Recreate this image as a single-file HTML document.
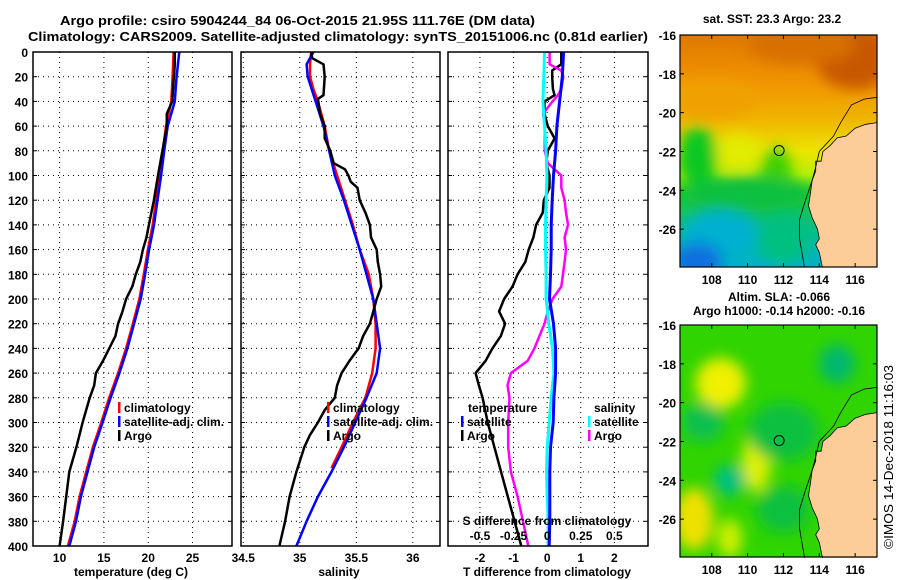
<!DOCTYPE html>
<html><head><meta charset="utf-8"><style>
html,body{margin:0;padding:0;background:#fff;}
svg{display:block;font-family:"Liberation Sans",sans-serif;}
text{font-weight:bold;fill:#000;}
</style></head><body>
<svg id="chart" width="900" height="580" viewBox="0 0 900 580" xmlns="http://www.w3.org/2000/svg">
<defs>
<filter id="blur1" x="-50%" y="-50%" width="200%" height="200%"><feGaussianBlur stdDeviation="7"/></filter>
<clipPath id="clipMap1"><rect x="680" y="35" width="197" height="232"/></clipPath>
<clipPath id="clipMap2"><rect x="680" y="325" width="197" height="233"/></clipPath>
<linearGradient id="sstGrad" x1="0" y1="0" x2="0" y2="1">
<stop offset="0" stop-color="#e07800"/>
<stop offset="0.2" stop-color="#f09400"/>
<stop offset="0.36" stop-color="#f0b400"/>
<stop offset="0.5" stop-color="#ece400"/>
<stop offset="0.6" stop-color="#b8f000"/>
<stop offset="0.68" stop-color="#20c830"/>
<stop offset="0.8" stop-color="#10c070"/>
<stop offset="0.92" stop-color="#00b8b0"/>
<stop offset="1" stop-color="#00b0c8"/>
</linearGradient>
</defs>
<text x="60" y="25" font-size="13" textLength="475" lengthAdjust="spacingAndGlyphs">Argo profile: csiro 5904244_84 06-Oct-2015 21.95S 111.76E (DM data)</text>
<text x="28" y="41" font-size="13" textLength="620" lengthAdjust="spacingAndGlyphs">Climatology: CARS2009. Satellite-adjusted climatology: synTS_20151006.nc (0.81d earlier)</text>
<g id="plots"></g>
<g id="maps"></g>
<text transform="translate(893,549) rotate(-90)" font-size="13" textLength="184" lengthAdjust="spacingAndGlyphs" style="font-weight:normal">©IMOS 14-Dec-2018 11:16:03</text>
</svg>
<script>
// ---- data ----
const depths = [0,20,40,60,80,100,120,140,160,180,200,220,240,260,280,300,320,340,360,380,400];
const tempClim = [22.86,22.75,22.6,22.0,21.65,21.3,20.9,20.5,19.96,19.5,19.0,18.27,17.5,16.6,15.6,14.7,13.76,13.0,12.26,11.7,10.94];
const tempSat  = [23.5,23.2,23.0,22.2,21.8,21.45,21.05,20.65,20.1,19.65,19.15,18.4,17.65,16.75,15.75,14.85,13.9,13.15,12.4,11.85,11.1];
const argoTempDepth = [0,10,20,30,40,50,60,80,100,120,140,150,160,170,180,190,200,210,220,230,240,250,260,270,280,300,320,340,360,380,400];
const tempArgo = [23.0,23.0,22.9,22.8,22.7,22.1,22.1,21.6,21.1,20.64,20.07,19.8,19.4,19.1,18.6,18.2,17.5,17.1,16.6,16.3,15.6,14.9,14.1,13.9,13.4,12.6,11.9,11.1,10.75,10.4,10.0];
const salClimDepth = [0,10,20,30,40,60,80,100,120,140,160,180,200,220,240,260,280,300,320,337];
const salClim = [35.10,35.09,35.09,35.12,35.16,35.22,35.26,35.33,35.40,35.47,35.53,35.61,35.65,35.67,35.67,35.64,35.58,35.47,35.37,35.28];
const salSatDepth = [0,10,20,40,60,80,100,120,140,160,180,200,220,240,260,280,300,320,340,360,380,400];
const salSat = [35.12,35.06,35.07,35.14,35.21,35.26,35.31,35.39,35.46,35.53,35.59,35.65,35.68,35.71,35.68,35.59,35.49,35.39,35.28,35.16,35.06,34.97];
const argoSalDepth = [0,5,10,20,35,38,50,60,70,80,90,95,100,105,110,120,130,140,150,160,170,180,190,200,210,220,230,240,250,260,270,280,290,300,310,320,340,360,380,400];
const salArgo = [35.10,35.11,35.21,35.22,35.21,35.16,35.18,35.22,35.22,35.27,35.30,35.40,35.43,35.45,35.51,35.53,35.58,35.62,35.63,35.68,35.69,35.71,35.72,35.68,35.65,35.62,35.56,35.52,35.44,35.37,35.33,35.31,35.22,35.16,35.09,35.04,34.97,34.91,34.87,34.82];
const diffDepth = [0,10,15,20,30,35,40,50,60,70,80,90,100,110,120,130,140,150,160,170,180,190,200,210,220,230,240,250,260,270,280,300,320,340,360,380,400];
const dTempArgo = [0.42,0.42,0.15,0.15,0.17,0.22,-0.08,-0.08,0.02,0.22,0.02,-0.03,0.07,0.07,-0.10,-0.13,-0.33,-0.41,-0.55,-0.65,-0.88,-1.03,-1.28,-1.43,-1.25,-1.38,-1.63,-1.83,-2.13,-2.03,-1.92,-1.77,-1.57,-1.37,-1.17,-0.97,-0.77];
const dSalArgo = [0.018,0.018,0.105,0.12,0.105,0.08,0.04,-0.03,-0.018,-0.018,-0.018,0.005,0.105,0.105,0.13,0.14,0.155,0.13,0.14,0.13,0.118,0.105,0.04,0.005,-0.02,-0.058,-0.095,-0.145,-0.27,-0.295,-0.28,-0.29,-0.29,-0.27,-0.22,-0.18,-0.14];
const satDepth = [0,20,40,60,80,100,120,140,160,180,200,220,240,260,280,300,320,340,360,380,400];
const dTempSat = [0.49,0.45,0.37,0.29,0.25,0.19,0.15,0.12,0.12,0.10,0.07,0.19,0.25,0.25,0.20,0.18,0.10,0.08,0.08,0.08,0.06];
const dSalSat = [-0.02,-0.025,-0.032,-0.02,-0.008,-0.002,-0.008,-0.012,-0.012,-0.008,-0.008,0.012,0.04,0.05,0.03,0.015,0.0,-0.005,0.0,0.008,0.008];
const tempTicks = [10,15,20,25];
const salTicks = [34.5,35,35.5,36];
const dTTicks = [-2,-1,0,1,2];
const dSTicks = [-0.5,-0.25,0,0.25,0.5];
const depthTicks = [0,20,40,60,80,100,120,140,160,180,200,220,240,260,280,300,320,340,360,380,400];
const latTicks = [-16,-18,-20,-22,-24,-26];
const lonTicks = [108,110,112,114,116];
const argoLon = 111.76, argoLat = -21.95;

// ---- helpers ----
const NS = "http://www.w3.org/2000/svg";
function mk(tag, attrs, parent){ const e=document.createElementNS(NS,tag); for(const k in attrs) e.setAttribute(k,attrs[k]); parent.appendChild(e); return e; }
const TOP=52, BOT=546;
function yD(d){ return TOP + d*(BOT-TOP)/400; }
function lin(d0,d1,r0,r1){ return v => r0 + (v-d0)*(r1-r0)/(d1-d0); }
const xT = lin(7,29.45,33,232);
const xS = lin(34.48,36.24,241,440);
const xDT = lin(-2.95,3.0,448,648);
const xDS = v => xDT(v*4);
const plots = document.getElementById('plots');

function panel(name, x0, x1, vticks, xf, showY){
  const g = mk('g',{},plots);
  
  
  for(const d of depthTicks){ if(d===0||d===400) continue;
    const l = mk('line',{x1:x0,x2:x1,y1:yD(d),y2:yD(d),stroke:'#000','stroke-width':1,'stroke-dasharray':'1,4'},g);
    
    
    mk('line',{x1:x0,x2:x0+4,y1:yD(d),y2:yD(d),stroke:'#000'},g);
    mk('line',{x1:x1-4,x2:x1,y1:yD(d),y2:yD(d),stroke:'#000'},g);
  }
  for(const v of vticks){ const x=xf(v); if(x<x0+2||x>x1-2) continue;
    const l = mk('line',{x1:x,x2:x,y1:TOP,y2:BOT,stroke:'#000','stroke-width':1,'stroke-dasharray':'1,4'},g);
    
    
  }
  if(showY){ for(const d of depthTicks){
    const t = mk('text',{x:28,y:yD(d)+5,'font-size':12,'text-anchor':'end'},g); t.textContent=d;
    
    
  }}
  return g;
}
function frame(g,x0,x1){ const r=mk('rect',{x:x0,y:TOP,width:x1-x0,height:BOT-TOP,fill:'none',stroke:'#000','stroke-width':1.5},g);
    }
function series(g,name,ds,vs,xf,color,w){
  let p=''; ds.forEach((d,i)=>{ if(vs[i]==null) return; p += (p?'L':'M')+xf(vs[i]).toFixed(1)+','+yD(d).toFixed(1); });
  const e = mk('path',{d:p,fill:'none',stroke:color,'stroke-width':w||2.5,'stroke-linejoin':'round'},g);
  
  
}
function xlabels(g,ticks,xf,y){ for(const v of ticks){ const t=mk('text',{x:xf(v),y:y,'font-size':12,'text-anchor':'middle'},g); t.textContent=v;
    } }
function label(g,name,x,y,txt,anchor,size){ const t=mk('text',{x:x,y:y,'font-size':size||12,'text-anchor':anchor||'start'},g); t.textContent=txt;
    return t; }
function legendEntry(g,x,y,color,txt){
  const r=mk('rect',{x:x,y:y-10,width:2.5,height:11,fill:color},g);
   
  label(g,'legend-entry',x+6,y,txt);
}

// panel 1 temperature
const g1 = panel('temperature-panel',33,232,tempTicks,xT,true);
series(g1,'temp-climatology-line',depths,tempClim,xT,'#ff0000');
series(g1,'temp-satellite-line',depths,tempSat,xT,'#0000ff');
series(g1,'temp-argo-line',argoTempDepth,tempArgo,xT,'#000000');
frame(g1,33,232);
xlabels(g1,tempTicks,xT,562);
label(g1,'x-axis-title',131,576,'temperature (deg C)','middle');
legendEntry(g1,118,412,'#ff0000','climatology');
legendEntry(g1,118,426,'#0000ff','satellite-adj. clim.');
legendEntry(g1,118,440,'#000000','Argo');

// panel 2 salinity
const g2 = panel('salinity-panel',241,440,salTicks,xS,false);
series(g2,'sal-climatology-line',salClimDepth,salClim,xS,'#ff0000');
series(g2,'sal-satellite-line',salSatDepth,salSat,xS,'#0000ff');
series(g2,'sal-argo-line',argoSalDepth,salArgo,xS,'#000000');
frame(g2,241,440);
xlabels(g2,salTicks,xS,562);
label(g2,'x-axis-title',339,576,'salinity','middle');
legendEntry(g2,327,412,'#ff0000','climatology');
legendEntry(g2,327,426,'#0000ff','satellite-adj. clim.');
legendEntry(g2,327,440,'#000000','Argo');

// panel 3 differences
const g3 = panel('difference-panel',448,648,dTTicks,xDT,false);
series(g3,'dT-argo-line',diffDepth,dTempArgo,xDT,'#000000');
series(g3,'dS-argo-line',diffDepth,dSalArgo,xDS,'#ff00ff');
series(g3,'dS-satellite-line',satDepth,dSalSat,xDS,'#00ffff',3);
series(g3,'dT-satellite-line',satDepth,dTempSat,xDT,'#0000ff',3);
frame(g3,448,648);
xlabels(g3,dTTicks,xDT,562);
xlabels(g3,dSTicks,xDS,540);
label(g3,'s-axis-title',547,525,'S difference from climatology','middle');
label(g3,'x-axis-title',547,576,'T difference from climatology','middle');
label(g3,'legend-title-temperature',468,412,'temperature');
legendEntry(g3,461,426,'#0000ff','satellite');
legendEntry(g3,461,440,'#000000','Argo');
label(g3,'legend-title-salinity',594,412,'salinity');
legendEntry(g3,588,426,'#00ffff','satellite');
legendEntry(g3,588,440,'#ff00ff','Argo');

// ---- maps ----
const maps = document.getElementById('maps');
const coast = [[117.3,-20.5],[116.6,-20.6],[116,-20.8],[115.5,-21.2],[115,-21.3],[114.6,-21.7],[114.2,-22.0],[114.1,-22.5],[113.8,-22.5],[113.8,-23.0],[113.6,-23.5],[113.5,-24.2],[113.4,-24.8],[113.6,-25.4],[113.9,-26.0],[114.0,-26.5],[113.8,-26.8],[114.0,-27.2],[114.2,-28.1],[117.3,-28.1]];
const shelf = [[113.2,-28.1],[112.9,-26.5],[112.9,-25.5],[113.2,-24.6],[113.6,-23.5],[113.8,-22.8],[114.0,-22.0],[114.8,-21.2],[115.2,-20.5],[115.8,-19.6],[116.5,-19.3],[117.3,-19.2]];
function drawMap(name, yTop, blobs, base, titles){
  const xL = lin(106.23,117.22,680,877);
  const yL = lin(-16,-27.95,yTop,yTop+232);
  const g = mk('g',{},maps);
  
  
  const cg = mk('g',{'clip-path': yTop<100?'url(#clipMap1)':'url(#clipMap2)'},g);
  mk('rect',{x:680,y:yTop,width:197,height:232,fill:base},cg);
  const bg = mk('g',{filter:'url(#blur1)'},cg);
  for(const b of blobs) mk('ellipse',{cx:xL(b[0]),cy:yL(b[1]),rx:b[2]*18,ry:b[3]*19.4,fill:b[4]},bg);
  const lp = coast.map((c,i)=>(i?'L':'M')+xL(c[0]).toFixed(1)+','+yL(c[1]).toFixed(1)).join('')+'Z';
  const land = mk('path',{d:lp,fill:'#fccc99',stroke:'#000','stroke-width':0.8},cg);
   
  const sp = shelf.map((c,i)=>(i?'L':'M')+xL(c[0]).toFixed(1)+','+yL(c[1]).toFixed(1)).join('');
  const sh = mk('path',{d:sp,fill:'none',stroke:'#000','stroke-width':0.8},cg);
   
  const pt = mk('circle',{cx:xL(argoLon),cy:yL(argoLat),r:5,fill:'none',stroke:'#000','stroke-width':1},g);
   
  const fr = mk('rect',{x:680,y:yTop,width:197,height:232,fill:'none',stroke:'#000','stroke-width':1.2},g);
   
  for(const la of latTicks){ const y=yL(la);
    mk('line',{x1:680,x2:684,y1:y,y2:y,stroke:'#000'},g); mk('line',{x1:873,x2:877,y1:y,y2:y,stroke:'#000'},g);
    label(g,'lat-tick-label',676,y+5,String(la),'end'); }
  for(const lo of lonTicks){ const x=xL(lo);
    mk('line',{x1:x,x2:x,y1:yTop,y2:yTop+4,stroke:'#000'},g); mk('line',{x1:x,x2:x,y1:yTop+228,y2:yTop+232,stroke:'#000'},g);
    label(g,'lon-tick-label',x,yTop+249,String(lo),'middle'); }
  titles.forEach((t,i)=>label(g,'map-title',t[1],t[2],t[0],'middle'));
}
drawMap('sst-map',35,[
  [116,-17.2,2.2,1.6,'#c85800'],[113,-16.5,3,1,'#d87000'],[108,-19.3,2.5,1,'#f0a000'],
  [107.2,-22.3,1.1,1.6,'#10c820'],[111.6,-23.2,0.9,1.4,'#40d000'],[109.5,-22,1.2,0.8,'#e0ec00'],
  [110,-24.2,3.5,0.9,'#10c040'],[108.5,-26.3,2.2,1.3,'#00b0d0'],[107.2,-27.6,1.4,0.9,'#1070e0'],[112,-26.5,1.5,1.3,'#00c080']],'url(#sstGrad)',[['sat. SST: 23.3 Argo: 23.2',772,23]]);
drawMap('sla-map',325,[
  [108.5,-19,1.4,1.3,'#f0f000'],[110.5,-23,0.8,1.6,'#e0f000'],[107,-26,1.1,1.6,'#f0e000'],[109,-24,0.9,0.8,'#00c080'],
  [115,-18,1,1,'#00b870'],[107.5,-21,1.2,1,'#10c050'],[112,-21.5,2,1.5,'#10c040'],[109,-27,0.7,1,'#d0f000'],[112,-25.5,1.5,1.2,'#10c040']],'#30d400',[['Altim. SLA: -0.066',779,301],['Argo h1000: -0.14 h2000: -0.16',779,315]]);
</script>
</body></html>
